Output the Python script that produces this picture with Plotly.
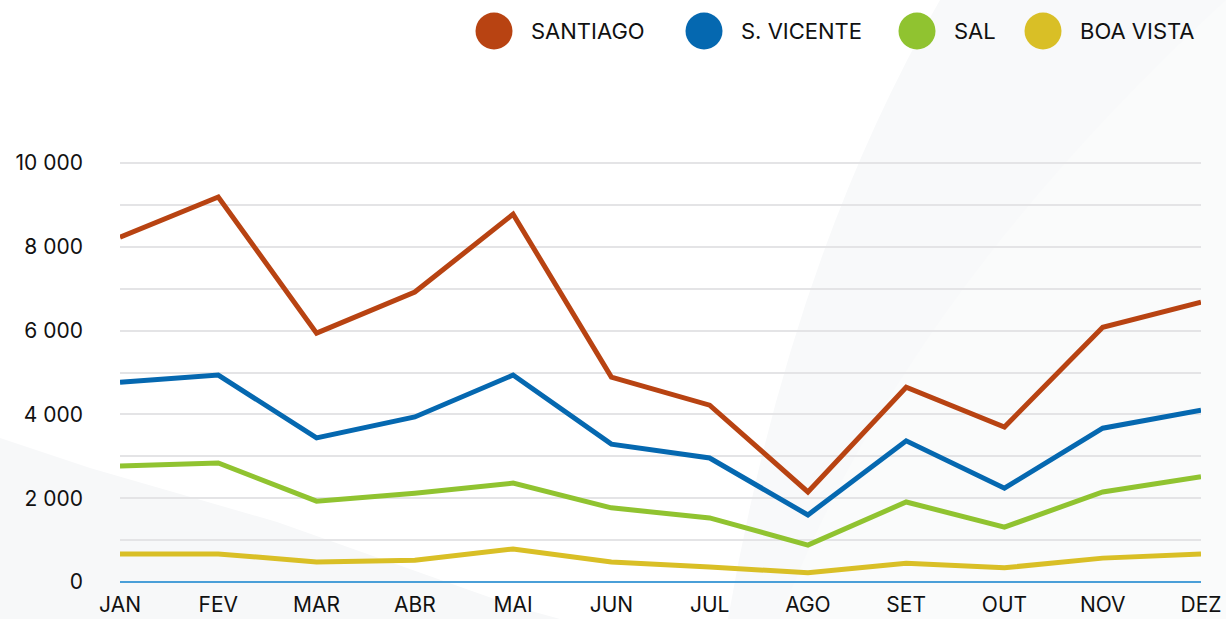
import plotly.graph_objects as go

meses = ["JAN", "FEV", "MAR", "ABR", "MAI", "JUN", "JUL", "AGO", "SET", "OUT", "NOV", "DEZ"]

santiago = [8230, 9190, 5940, 6920, 8780, 4890, 4220, 2150, 4650, 3700, 6080, 6680]
s_vicente = [4770, 4940, 3440, 3940, 4940, 3290, 2960, 1600, 3370, 2240, 3670, 4100]
sal = [2770, 2840, 1930, 2120, 2360, 1770, 1530, 880, 1910, 1310, 2150, 2510]
boa_vista = [670, 670, 480, 520, 790, 480, 360, 220, 450, 340, 570, 670]

ilhas = ["SANTIAGO", "S. VICENTE", "SAL", "BOA VISTA"]
cores = ["#b84312", "#0568b0", "#90c330", "#d9bf26"]
series = [santiago, s_vicente, sal, boa_vista]

W, H = 1226, 619
# plot area in pixels
L, R, T, B = 120, 1201, 162, 582
YMAX = 10025


def px(x, y):
    # pixel -> paper coords (for the decorative shapes / legend)
    return (x - L) / (R - L), (B - y) / (B - T)


def path(points):
    p = [px(*pt) for pt in points]
    s = "M %f,%f " % p[0]
    for q in p[1:]:
        s += "L %f,%f " % q
    return s + "Z"


fig = go.Figure()

for nome, cor, vals in zip(ilhas, cores, series):
    fig.add_trace(go.Scatter(
        x=meses, y=vals, name=nome, mode="lines",
        line=dict(color=cor, width=5),
        showlegend=False,
    ))

shapes = []

# faint background swooshes
x0, y0 = px(728, 619)
cx, cy = px(790, 260)
x1, y1 = px(940, 0)
shapes.append(dict(type="path", xref="paper", yref="paper", layer="below",
                   path="M %f,%f Q %f,%f %f,%f L %f,%f L %f,%f Z" % (
                       x0, y0, cx, cy, x1, y1, *px(1226, 0), *px(1226, 619)),
                   fillcolor="#f8f9fa", line=dict(width=0)))
x0, y0 = px(780, 619)
cx, cy = px(900, 300)
x1, y1 = px(1226, 0)
shapes.append(dict(type="path", xref="paper", yref="paper", layer="below",
                   path="M %f,%f Q %f,%f %f,%f L %f,%f Z" % (
                       x0, y0, cx, cy, x1, y1, *px(1226, 619)),
                   fillcolor="#fafbfb", line=dict(width=0)))
shapes.append(dict(type="path", xref="paper", yref="paper", layer="below",
                   path=path([(0, 438), (90, 468), (277, 522), (520, 608), (560, 619), (0, 619)]),
                   fillcolor="#f7f8f9", line=dict(width=0)))

# legend
leg_x = [494, 704, 917, 1043]
annotations = []
for nome, cor, cxp in zip(ilhas, cores, leg_x):
    a, b = px(cxp - 18.5, 31 - 18.5)
    c, d = px(cxp + 18.5, 31 + 18.5)
    shapes.append(dict(type="circle", xref="paper", yref="paper",
                       x0=a, x1=c, y0=d, y1=b, fillcolor=cor, line=dict(width=0)))
    tx, ty = px(cxp + 35, 31)
    annotations.append(dict(x=tx, y=ty, xref="paper", yref="paper", text=nome,
                            showarrow=False, xanchor="left", yanchor="middle",
                            font=dict(family="Inter", size=22, color="#111111")))

fig.update_layout(
    width=W, height=H,
    margin=dict(l=L, r=W - R, t=T, b=H - B),
    paper_bgcolor="white",
    plot_bgcolor="rgba(0,0,0,0)",
    font=dict(family="Inter", size=21, color="#111111"),
    separators=", ",
    shapes=shapes,
    annotations=annotations,
    xaxis=dict(range=[0, 11], showgrid=False, ticks="", showline=False,
               zeroline=False, ticklabelstandoff=8, automargin=False),
    yaxis=dict(range=[0, YMAX], dtick=2000, tickformat=",d",
               showgrid=True, gridcolor="#e4e4e6", gridwidth=1.5,
               minor=dict(dtick=1000, showgrid=True, gridcolor="#e4e4e6", gridwidth=1.5),
               zeroline=True, zerolinecolor="#4a9fd8", zerolinewidth=2,
               ticks="", ticklabelstandoff=36, automargin=False),
)

# page has a default 8px body margin, drop it so the figure sits at 0,0
fig.write_html("out.html", config={"displayModeBar": False},
               post_script="document.body.style.margin='0';")
